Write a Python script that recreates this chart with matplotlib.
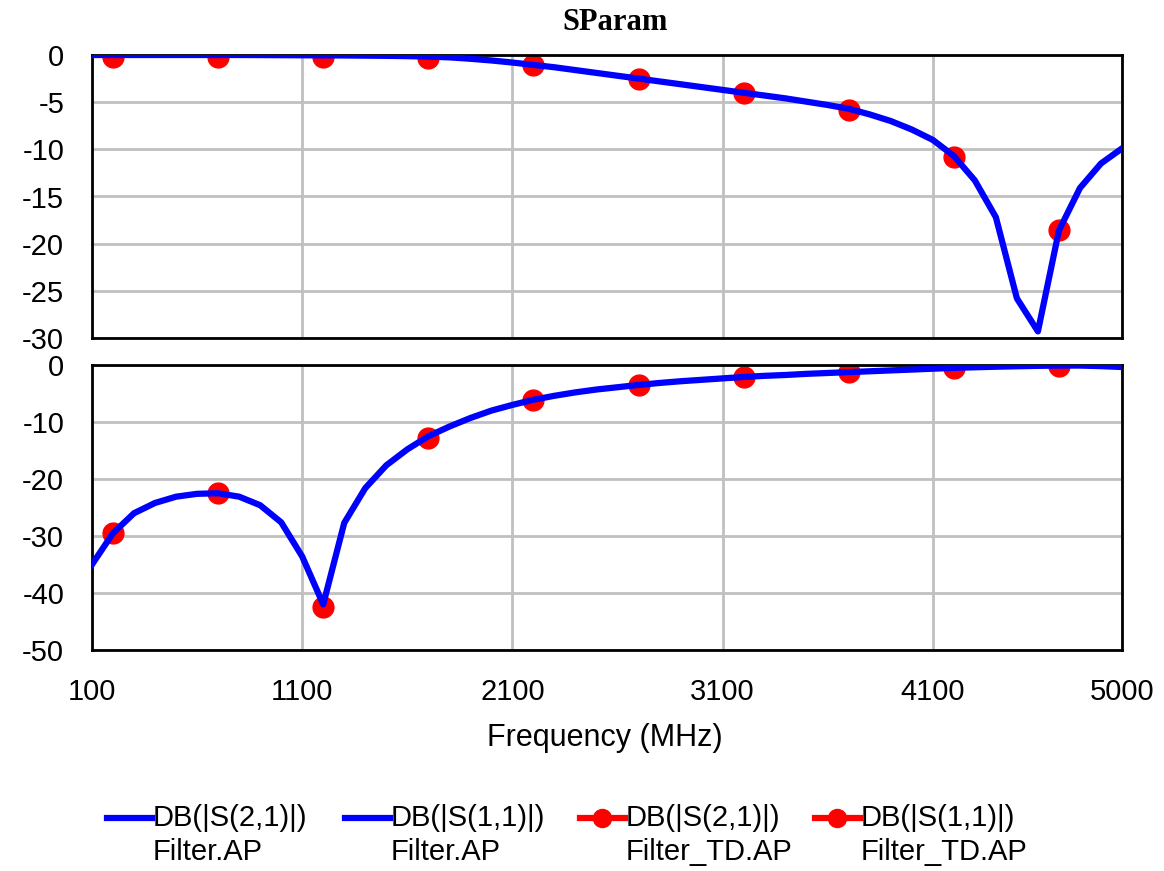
import matplotlib.pyplot as plt
from matplotlib.lines import Line2D

# Sweep (MHz)
freq = list(range(100, 5001, 100))

# DB(|S(2,1)|) Filter.AP
s21_ap = [0.0, 0.0, 0.0, 0.0, 0.0, 0.0, 0.0, 0.0, -0.01, -0.02,
          -0.03, -0.04, -0.05, -0.07, -0.09, -0.12, -0.17, -0.25, -0.4, -0.58,
          -0.8, -1.05, -1.3, -1.6, -1.9, -2.2, -2.5, -2.8, -3.1, -3.4,
          -3.7, -4.0, -4.3, -4.6, -4.95, -5.3, -5.7, -6.3, -7.0, -7.9,
          -9.0, -10.7, -13.3, -17.2, -25.8, -29.3, -18.6, -14.1, -11.5, -9.9]

# DB(|S(1,1)|) Filter.AP
s11_ap = [-35.0, -29.5, -26.0, -24.2, -23.1, -22.6, -22.5, -23.1, -24.6, -27.6,
          -33.6, -42.0, -27.7, -21.6, -17.6, -14.8, -12.5, -10.8, -9.3, -8.0,
          -7.0, -6.1, -5.4, -4.8, -4.3, -3.9, -3.5, -3.15, -2.85, -2.6,
          -2.35, -2.1, -1.9, -1.75, -1.55, -1.4, -1.25, -1.1, -0.95, -0.8,
          -0.65, -0.5, -0.4, -0.3, -0.22, -0.15, -0.1, -0.1, -0.2, -0.35]

# Filter_TD.AP markers
td_freq = [200, 700, 1200, 1700, 2200, 2700, 3200, 3700, 4200, 4700]
s21_td = [-0.2, -0.2, -0.2, -0.3, -1.1, -2.5, -4.0, -5.8, -10.8, -18.6]
s11_td = [-29.5, -22.5, -42.5, -12.8, -6.1, -3.5, -2.1, -1.2, -0.5, -0.2]

xticks = [100, 1100, 2100, 3100, 4100, 5000]
legend_top = ["DB(|S(2,1)|)", "DB(|S(1,1)|)", "DB(|S(2,1)|)", "DB(|S(1,1)|)"]
legend_bot = ["Filter.AP", "Filter.AP", "Filter_TD.AP", "Filter_TD.AP"]

W, H = 1164, 871
plt.rcParams['font.family'] = ['Liberation Sans', 'DejaVu Sans']
plt.rcParams['axes.unicode_minus'] = False
fig = plt.figure(figsize=(W / 100, H / 100), dpi=100)

ax1 = fig.add_axes([92 / W, 1 - 338 / H, 1030 / W, 283 / H])
ax2 = fig.add_axes([92 / W, 1 - 650 / H, 1030 / W, 285 / H])

blue = '#0000ff'
red = '#ff0000'

for ax, ap, td in [(ax1, s21_ap, s21_td), (ax2, s11_ap, s11_td)]:
    ax.plot(td_freq, td, 'o', color=red, markersize=15, zorder=2)
    ax.plot(freq, ap, color=blue, linewidth=4.5, zorder=3)
    ax.set_xlim(100, 5000)
    ax.set_xticks(xticks)
    ax.grid(True, color='#c0c0c0', linewidth=2)
    ax.set_axisbelow(True)
    ax.tick_params(length=0, pad=20, labelsize=21)
    for sp in ax.spines.values():
        sp.set_linewidth(2)
        sp.set_color('black')

ax1.set_ylim(-30, 0)
ax1.set_yticks(range(-30, 1, 5))
ax1.tick_params(labelbottom=False)

ax2.set_ylim(-50, 0)
ax2.set_yticks(range(-50, 1, 10))

fig.text(615 / W, 1 - 22 / H, 'SParam', family='Liberation Serif',
         fontweight='bold', fontsize=22, ha='center', va='center')
fig.text(605 / W, 1 - 738 / H, 'Frequency (MHz)', fontsize=22,
         ha='center', va='center')

# legend drawn by hand: handle beside the first line only
starts = [107, 345, 580, 815]
for i, x0 in enumerate(starts):
    col = blue if i < 2 else red
    fig.add_artist(Line2D([x0 / W, (x0 + 45) / W], [1 - 818 / H] * 2,
                          color=col, linewidth=4.5, transform=fig.transFigure))
    if i >= 2:
        fig.add_artist(Line2D([(x0 + 22) / W], [1 - 818 / H], marker='o',
                              color=col, markersize=13, transform=fig.transFigure))
    fig.text((x0 + 46) / W, 1 - 818 / H, legend_top[i], fontsize=21,
             ha='left', va='center')
    fig.text((x0 + 46) / W, 1 - 852 / H, legend_bot[i], fontsize=21,
             ha='left', va='center')

fig.savefig('out.png', dpi=100)
